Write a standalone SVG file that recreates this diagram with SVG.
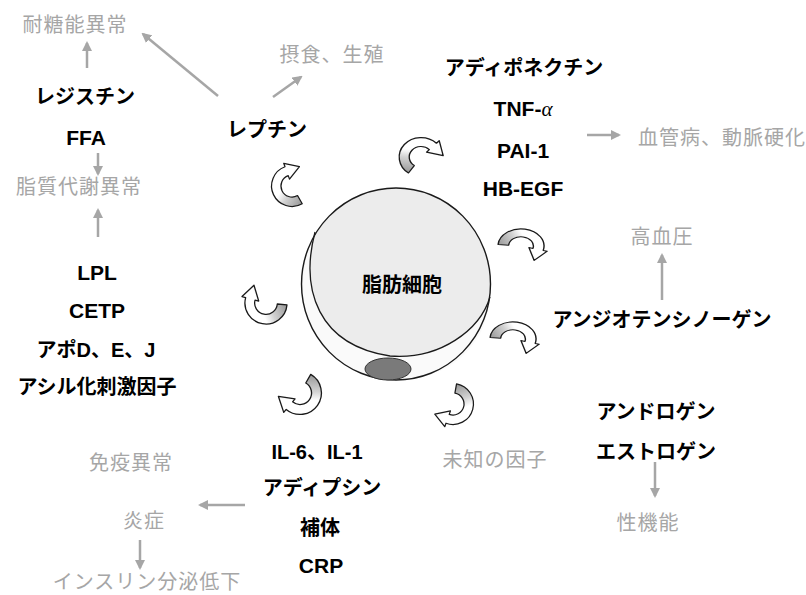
<svg xmlns="http://www.w3.org/2000/svg" width="806" height="595" viewBox="0 0 806 595">
<style>
.b{font-family:"Liberation Sans","Noto Sans CJK JP",sans-serif;font-weight:bold;font-size:20px;fill:#000;text-anchor:middle}
.l{font-size:21px}
.g{font-family:"Noto Sans CJK JP","Liberation Sans",sans-serif;font-size:20px;fill:#a6a6a6;text-anchor:middle;letter-spacing:1px}
.sa{stroke:#a6a6a6;stroke-width:2.5;fill:none;marker-end:url(#ah)}
.ca{fill:url(#cg);stroke:#1a1a1a;stroke-width:1.2;stroke-linejoin:round}
</style>
<defs>
<marker id="ah" viewBox="0 0 10 10" refX="8" refY="5" markerWidth="4" markerHeight="4" orient="auto" markerUnits="strokeWidth">
<path d="M0,0 L10,5 L0,10 Z" fill="#a6a6a6"/>
</marker>
<linearGradient id="cg" gradientUnits="userSpaceOnUse" x1="10" y1="15" x2="-18" y2="-2">
<stop offset="0" stop-color="#9a9a9a"/>
<stop offset="0.45" stop-color="#d2d2d2"/>
<stop offset="0.7" stop-color="#ffffff"/>
</linearGradient>
<path id="carrow" class="ca" d="M9.75,16.89 A19.5,19.5 0 1 1 -6.67,-18.33 L-7.87,-21.61 L7.09,-18.55 L-2.39,-6.58 L-3.59,-9.87 A10.5,10.5 0 1 0 5.25,9.09 Z"/>
</defs>
<rect width="806" height="595" fill="#fff"/>

<g id="cell">
<ellipse cx="396" cy="284" rx="94.5" ry="96" fill="#ececec"/>
<path d="M315,232 C300,290 318,345 390,356 C440,360 480,330 490,297 C487,345 450,380 396,380 C345,380 305,340 302,290 C302,268 308,248 315,232 Z" fill="#fafafa" stroke="none"/>
<ellipse cx="396" cy="284" rx="94.5" ry="96" fill="none" stroke="#1a1a1a" stroke-width="1.4"/>
<path d="M315,232 C300,290 318,345 390,356 C440,360 480,330 490,297" fill="none" stroke="#1a1a1a" stroke-width="1.3"/>
<ellipse cx="388" cy="369" rx="23" ry="11" fill="#7a7a7a" stroke="#333" stroke-width="1"/>
<text class="b" x="402" y="292">脂肪細胞</text>
</g>

<g id="connectors">
<line class="sa" x1="87" y1="68" x2="87" y2="43"/>
<line class="sa" x1="98" y1="153" x2="98" y2="174"/>
<line class="sa" x1="98" y1="237" x2="98" y2="210"/>
<line class="sa" x1="218" y1="96" x2="143" y2="34"/>
<line class="sa" x1="273" y1="97" x2="301" y2="77"/>
<line class="sa" x1="587" y1="135" x2="619" y2="135"/>
<line class="sa" x1="662" y1="300" x2="662" y2="255"/>
<line class="sa" x1="655" y1="462" x2="655" y2="496"/>
<line class="sa" x1="245" y1="505" x2="200" y2="505"/>
<line class="sa" x1="140" y1="540" x2="140" y2="568"/>
<use href="#carrow" transform="translate(292,186) scale(1.05)"/>
<use href="#carrow" transform="translate(421,157) scale(1.12,1) rotate(65)"/>
<use href="#carrow" transform="translate(266,303) scale(1.08) rotate(-55)"/>
<use href="#carrow" transform="translate(521,246) scale(1.18,0.88) rotate(125)"/>
<use href="#carrow" transform="translate(513,339) scale(1.18,0.88) rotate(125)"/>
<use href="#carrow" transform="translate(300,393) scale(1.1) rotate(-120)"/>
<use href="#carrow" transform="translate(453,404) scale(1.05) rotate(-140)"/>
</g>

<g id="resistin"><text class="b" x="85" y="104">レジスチン</text></g>
<g id="ffa"><text class="b l" x="86" y="144.5">FFA</text></g>
<g id="leptin"><text class="b" x="267" y="137">レプチン</text></g>
<g id="adiponectin"><text class="b" x="524" y="75">アディポネクチン</text></g>
<g id="tnf"><text class="b l" x="523" y="115.5">TNF-<tspan font-family="Liberation Serif,serif" font-style="italic" font-weight="normal">α</tspan></text></g>
<g id="pai1"><text class="b l" x="523" y="157.5">PAI-1</text></g>
<g id="hbegf"><text class="b l" x="523" y="195.5">HB-EGF</text></g>
<g id="lpl"><text class="b l" x="97" y="279.5">LPL</text></g>
<g id="cetp"><text class="b l" x="97" y="317.5">CETP</text></g>
<g id="apo"><text class="b" x="96" y="357">アポD、E、J</text></g>
<g id="asp"><text class="b" x="97" y="394">アシル化刺激因子</text></g>
<g id="angiotensinogen"><text class="b" x="662" y="327">アンジオテンシノーゲン</text></g>
<g id="androgen"><text class="b" x="656" y="419">アンドロゲン</text></g>
<g id="estrogen"><text class="b" x="656" y="459">エストロゲン</text></g>
<g id="il"><text class="b" x="317" y="459">IL-6、IL-1</text></g>
<g id="adipsin"><text class="b" x="322" y="495">アディプシン</text></g>
<g id="complement"><text class="b" x="320" y="535">補体</text></g>
<g id="crp"><text class="b l" x="321" y="572.5">CRP</text></g>

<g id="glucose"><text class="g" x="75" y="32">耐糖能異常</text></g>
<g id="feeding"><text class="g" x="332" y="62">摂食、生殖</text></g>
<g id="lipid"><text class="g" x="79" y="194">脂質代謝異常</text></g>
<g id="vascular"><text class="g" x="722" y="145">血管病、動脈硬化</text></g>
<g id="hypertension"><text class="g" x="662" y="244">高血圧</text></g>
<g id="unknown"><text class="g" x="495" y="467">未知の因子</text></g>
<g id="sexfunc"><text class="g" x="648" y="530">性機能</text></g>
<g id="immune"><text class="g" x="131" y="470">免疫異常</text></g>
<g id="inflammation"><text class="g" x="144" y="528">炎症</text></g>
<g id="insulin"><text class="g" x="147" y="589">インスリン分泌低下</text></g>
</svg>
